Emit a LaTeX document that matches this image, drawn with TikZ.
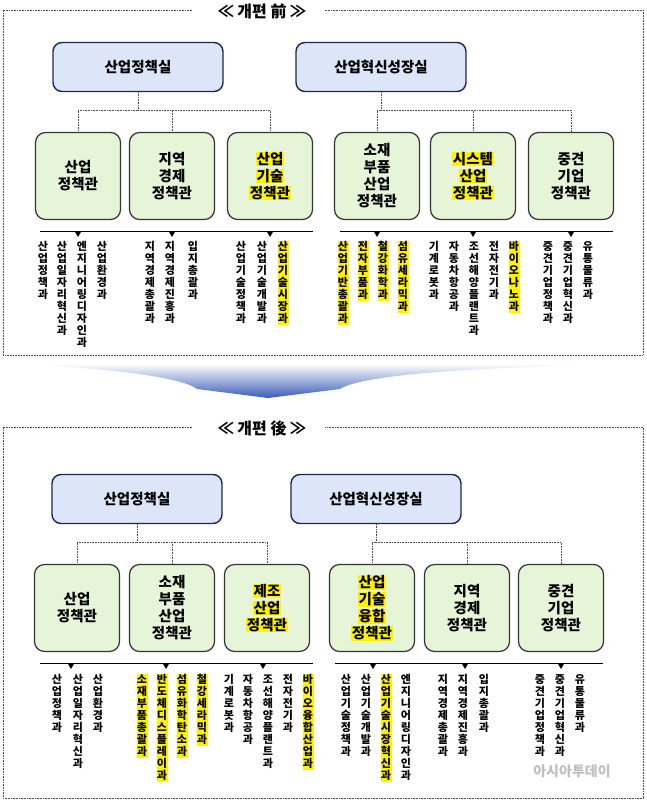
\documentclass[tikz,border=0pt]{standalone}
\usepackage{fontspec}
\setmainfont{Noto Sans CJK KR}
\definecolor{navy}{HTML}{1F2650}
\definecolor{boxblue}{HTML}{DCE6F8}
\definecolor{boxgreen}{HTML}{E6F5D8}
\definecolor{arrowblue}{HTML}{3A5BB8}
\newcommand\hlt[1]{{\fboxsep=0.6pt\colorbox{yellow}{#1}}}
% vertical text, one character per line
\def\vtx#1{\ifx#1\relax\else\hbox to 11pt{\hss\vrule height 9.3pt depth 2.7pt width 0pt#1\hss}\expandafter\vtx\fi}
\newcommand\vt[1]{\vbox{\offinterlineskip\expandafter\vtx#1\relax}}
\begin{document}
\begin{tikzpicture}[x=1pt,y=-1pt,
  office/.style={draw=navy,line width=1.4pt,fill=boxblue,rounded corners=9pt,minimum width=170pt,minimum height=49pt,font=\fontsize{14.5}{16}\selectfont\bfseries},
  bureau/.style={draw=black!80,line width=1.2pt,fill=boxgreen,rounded corners=10pt,minimum width=85pt,minimum height=87pt,align=center,font=\fontsize{14.5}{17}\selectfont\bfseries},
  col/.style={anchor=north,inner sep=0pt,font=\fontsize{11}{12}\selectfont\bfseries},
  hl/.style={fill=yellow},
  conn/.style={densely dotted,black!70,line width=0.6pt},
  frame/.style={densely dotted,black!70,line width=0.6pt},
  title/.style={font=\fontsize{16}{18}\selectfont\bfseries}]
\useasboundingbox (0,0) rectangle (646,801);
%% before
\draw[frame] (192,10) -- (3,10) -- (3,355) -- (643,355) -- (643,10) -- (325,10);
\node[title] (t1) at (262,11) {≪ 개편 前 ≫};
\node[office] (pA) at (138,67) {산업정책실};
\node[office] (pB) at (381,67) {산업혁신성장실};
\node[bureau] (a1) at (78,176) {산업\\정책관};
\node[bureau] (a2) at (172,176) {지역\\경제\\정책관};
\node[bureau] (a3) at (270,176) {\hlt{산업}\\\hlt{기술}\\\hlt{정책관}};
\node[bureau] (b1) at (377,176) {소재\\부품\\산업\\정책관};
\node[bureau] (b2) at (473,176) {\hlt{시스템}\\\hlt{산업}\\\hlt{정책관}};
\node[bureau] (b3) at (571,176) {중견\\기업\\정책관};
\coordinate (jA) at (138,110);
\coordinate (jB) at (381,110);
\draw[conn] (pA) -- (jA);
\draw[conn] (pB) -- (jB);
\foreach \n in {a1,a2,a3} \draw[conn] (jA) -| (\n.north);
\foreach \n in {b1,b2,b3} \draw[conn] (jB) -| (\n.north);
\draw[line width=0.8pt] (40,231) -- (313,231);
\draw[line width=0.8pt] (340,231) -- (613,231);
\foreach \x in {78,172,270,377,473,571}
  \fill (\x-3.5,231) -- (\x+3.5,231) -- (\x,237) -- cycle;
\foreach \x/\t in {43/산업정책과,62/산업일자리혁신과,82/엔지니어링디자인과,102/산업환경과,
  150/지역경제총괄과,170/지역경제진흥과,193/입지총괄과,241/산업기술정책과,262/산업기술개발과,
  434/기계로봇과,454/자동차항공과,474/조선해양플랜트과,494/전자전기과,548/중견기업정책과,568/중견기업혁신과,588/유통물류과}
  \node[col] at (\x,241) {\vt{\t}};
\foreach \x/\t in {283/산업기술시장과,343/산업기반총괄과,363/전자부품과,383/철강화학과,403/섬유세라믹과,514/바이오나노과}
  \node[col,hl] at (\x,241) {\vt{\t}};
%% arrow
\shade[top color=white,bottom color=arrowblue]
  (20,364) -- (630,364) .. controls (450,368) and (360,376) .. (340,389) -- (268,398) -- (197,389) .. controls (180,376) and (100,368) .. (20,364) -- cycle;
%% after
\draw[frame] (192,427) -- (3,427) -- (3,798) -- (643,798) -- (643,427) -- (325,427);
\node[title] (t2) at (262,428) {≪ 개편 後 ≫};
\node[office] (qA) at (137,499) {산업정책실};
\node[office] (qB) at (376,499) {산업혁신성장실};
\node[bureau] (c1) at (77,608) {산업\\정책관};
\node[bureau] (c2) at (172,608) {소재\\부품\\산업\\정책관};
\node[bureau] (c3) at (267,608) {\hlt{제조}\\\hlt{산업}\\\hlt{정책관}};
\node[bureau] (d1) at (372,608) {\hlt{산업}\\\hlt{기술}\\\hlt{융합}\\\hlt{정책관}};
\node[bureau] (d2) at (467,608) {지역\\경제\\정책관};
\node[bureau] (d3) at (561,608) {중견\\기업\\정책관};
\coordinate (kA) at (137,542);
\coordinate (kB) at (376,542);
\draw[conn] (qA) -- (kA);
\draw[conn] (qB) -- (kB);
\foreach \n in {c1,c2,c3} \draw[conn] (kA) -| (\n.north);
\foreach \n in {d1,d2,d3} \draw[conn] (kB) -| (\n.north);
\draw[line width=0.8pt] (40,663) -- (313,663);
\draw[line width=0.8pt] (335,663) -- (603,663);
\foreach \x in {71,166,263,373,465,561}
  \fill (\x-3.5,663) -- (\x+3.5,663) -- (\x,669) -- cycle;
\foreach \x/\t in {57/산업정책과,78/산업일자리혁신과,98/산업환경과,229/기계로봇과,248/자동차항공과,268/조선해양플랜트과,288/전자전기과,
  346/산업기술정책과,366/산업기술개발과,406/엔지니어링디자인과,443/지역경제총괄과,463/지역경제진흥과,484/입지총괄과,
  540/중견기업정책과,560/중견기업혁신과,580/유통물류과}
  \node[col] at (\x,674) {\vt{\t}};
\foreach \x/\t in {142/소재부품총괄과,162/반도체디스플레이과,182/섬유화학탄소과,202/철강세라믹과,308/바이오융합산업과,386/산업기술시장혁신과}
  \node[col,hl] at (\x,674) {\vt{\t}};
\node[font=\fontsize{14}{16}\selectfont\bfseries,text=black!25] (wm) at (572,771) {아시아투데이};
\end{tikzpicture}
\end{document}
